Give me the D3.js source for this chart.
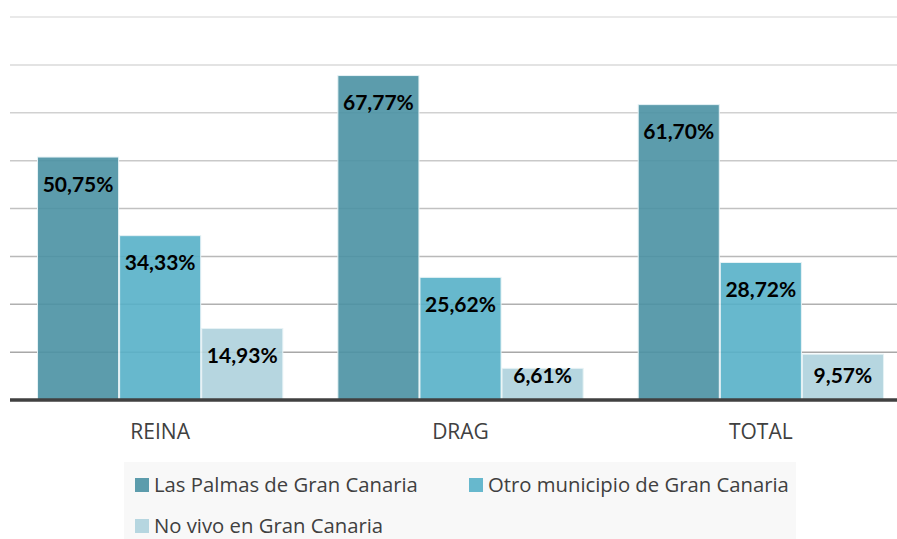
<!DOCTYPE html>
<html>
<head>
<meta charset="utf-8">
<script src="https://cdn.jsdelivr.net/npm/d3@7"></script>
<style>
  html, body { margin: 0; padding: 0; background: #fff; }
  svg { display: block; }
</style>
</head>
<body>
<div id="chart"></div>
<script>
// data
const categories = ['REINA', 'DRAG', 'TOTAL'];
const seriesNames = ['Las Palmas de Gran Canaria', 'Otro municipio de Gran Canaria', 'No vivo en Gran Canaria'];
const lasPalmas = [50.75, 67.77, 61.70];
const otroMunicipio = [34.33, 25.62, 28.72];
const noVivo = [14.93, 6.61, 9.57];
const yTicks = [0, 10, 20, 30, 40, 50, 60, 70, 80];

const colors = ['#4a91a3', '#57b0c8', '#aed1dd'];

let width = 897, height = 539;

let svg = d3.select('#chart').append('svg')
  .attr('width', width)
  .attr('height', height);

let x0 = d3.scaleBand()
  .domain(categories)
  .range([10, 911])
  .paddingInner(0.18)
  .paddingOuter(0.09);

let x1 = d3.scaleBand()
  .domain(d3.range(seriesNames.length))
  .range([0, x0.bandwidth()]);

let y = d3.scaleLinear()
  .domain([0, 80])
  .range([400, 17]);

// gridlines, lighter towards the top
let gridColor = d3.scaleLinear().domain([80, 10]).range(['#e2e2e2', '#a8a8a8']);

svg.append('g').attr('class', 'grid')
  .selectAll('line')
  .data(yTicks.filter(t => t > 0))
  .enter().append('line')
  .attr('x1', 10)
  .attr('x2', width)
  .attr('y1', d => y(d))
  .attr('y2', d => y(d))
  .style('stroke', d => gridColor(d))
  .style('stroke-width', 1.5);

let rows = categories.map(function(c, i) {
  return [lasPalmas[i], otroMunicipio[i], noVivo[i]].map(function(v, s) {
    return {cat: c, s: s, value: v};
  });
});

let group = svg.selectAll('.group')
  .data(rows)
  .enter().append('g')
  .attr('class', 'group')
  .attr('transform', (d, i) => 'translate(' + x0(categories[i]) + ',0)');

group.selectAll('rect')
  .data(d => d)
  .enter().append('rect')
  .attr('x', d => x1(d.s) + 0.5)
  .attr('y', d => y(d.value))
  .attr('width', x1.bandwidth() - 1)
  .attr('height', d => y(0) - y(d.value))
  .style('fill', d => colors[d.s])
  .style('fill-opacity', 0.9)
  .style('stroke', '#e6f2f5')
  .style('stroke-width', 1);

const fmt = v => v.toFixed(2).replace('.', ',') + '%';

group.selectAll('text.val')
  .data(d => d)
  .enter().append('text')
  .attr('class', 'val')
  .attr('x', d => x1(d.s) + x1.bandwidth() / 2)
  .attr('y', d => Math.min(y(d.value) + 27, y(0) - 25))
  .attr('dy', '0.36em')
  .attr('text-anchor', 'middle')
  .style('font-family', 'Lato, "Open Sans", sans-serif')
  .style('font-weight', 'bold')
  .style('font-size', '21px')
  .style('fill', '#000')
  .text(d => fmt(d.value));

// baseline
svg.append('line')
  .attr('x1', 10).attr('x2', width)
  .attr('y1', y(0)).attr('y2', y(0))
  .style('stroke', '#404040')
  .style('stroke-width', 3.5);

// category labels
let xAxis = d3.axisBottom(x0).tickSize(0).tickPadding(0);
let xg = svg.append('g')
  .attr('transform', 'translate(0,' + 439 + ')')
  .call(xAxis);
xg.select('.domain').remove();
xg.selectAll('text')
  .attr('dy', 0)
  .style('font-family', '"Open Sans", sans-serif')
  .style('font-size', '21px')
  .style('fill', '#404040');

// legend
let legend = svg.append('g').attr('class', 'legend');
legend.append('rect')
  .attr('x', 124).attr('y', 462)
  .attr('width', 672).attr('height', 80)
  .style('fill', '#f8f8f8');

let legendPos = [[135, 485], [469, 485], [135, 526]];

let item = legend.selectAll('.item')
  .data(seriesNames)
  .enter().append('g')
  .attr('class', 'item')
  .attr('transform', (d, i) => 'translate(' + legendPos[i][0] + ',' + legendPos[i][1] + ')');

item.append('rect')
  .attr('x', 0).attr('y', -7)
  .attr('width', 14).attr('height', 14)
  .style('fill', (d, i) => colors[i])
  .style('fill-opacity', 0.9);

item.append('text')
  .attr('x', 19)
  .attr('dy', '0.35em')
  .style('font-family', '"Open Sans", sans-serif')
  .style('font-size', '20.3px')
  .style('fill', '#404040')
  .text(d => d);
</script>
</body>
</html>
